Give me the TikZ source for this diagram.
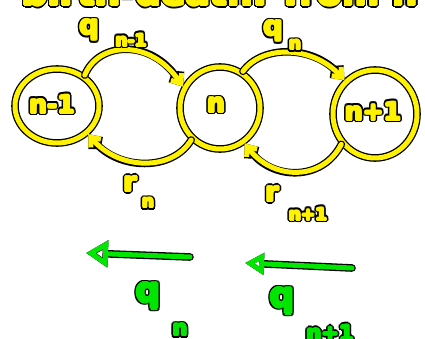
\documentclass[tikz,border=0pt]{standalone}
\usepackage{fontspec}
\setmainfont{DejaVu Sans}
\usetikzlibrary{arrows.meta,shapes.geometric,calc}
\definecolor{hy}{RGB}{255,242,0}
\definecolor{hg}{RGB}{0,230,0}
% outlined marker-style text: name, position, colour, font size, text
\newcommand{\otext}[5]{%
  \foreach \ang in {0,30,...,330} {\node[inner sep=0pt, text=black, font=\bfseries\fontsize{#4}{#4}\selectfont] at ($(#2)+(\ang:2.7pt)$) {#5};}
  \foreach \ang in {0,60,...,300} {\node[inner sep=0pt, text=#3, font=\bfseries\fontsize{#4}{#4}\selectfont] at ($(#2)+(\ang:1.2pt)$) {#5};}
  \node[inner sep=0pt, text=#3, font=\bfseries\fontsize{#4}{#4}\selectfont] (#1) at (#2) {#5};}
\tikzset{
  yl/.style={draw=hy, line width=5pt, line cap=round, line join=round,
     preaction={draw=black, line width=7.6pt, line cap=round, line join=round}},
  gl/.style={draw=hg, line width=5pt, line cap=round, line join=round,
     preaction={draw=black, line width=7.6pt, line cap=round, line join=round}},
  st/.style={ellipse, yl, inner sep=0pt},
  ytip/.style={-{Straight Barb[length=8pt,width=13pt]}},
}
\begin{document}
\begin{tikzpicture}[x=1pt,y=-1pt]
\useasboundingbox (0,0) rectangle (425,339);
% states
\node[st, minimum width=84pt, minimum height=74pt] (a) at (57,106) {};
\node[st, minimum width=80pt, minimum height=82pt] (b) at (220,108) {};
\node[st, minimum width=84pt, minimum height=88pt] (c) at (375,114) {};
% top arcs
\draw[yl, ytip] (a.48) .. controls (98,42) and (150,38) .. (b.150);
\draw[yl, ytip] (b.58) .. controls (262,45) and (312,45) .. (c.132);
% bottom arcs
\draw[yl, ytip] (b.228) .. controls (172,172) and (118,170) .. (a.318);
\draw[yl, ytip] (c.222) .. controls (322,182) and (272,180) .. (b.305);
% title (cut off at the top edge)
\begin{scope}
\clip (0,0) rectangle (425,339);
\otext{title}{220,-8}{hy}{36}{birth-death: from n}
\end{scope}
% state texts
\otext{ta}{52,104}{hy}{25}{n-1}
\otext{tb}{216,105}{hy}{25}{n}
\otext{tc}{373,111}{hy}{25}{n+1}
% labels
\otext{q1}{89,30}{hy}{27}{q}
\otext{q1s}{131,40}{hy}{17}{n-1}
\otext{q2}{273,31}{hy}{27}{q}
\otext{q2s}{295,45}{hy}{17}{n}
\otext{r1}{130,184}{hy}{27}{r}
\otext{r1s}{148,203}{hy}{17}{n}
\otext{r2}{272,194}{hy}{27}{r}
\otext{r2s}{308,214}{hy}{17}{n+1}
% green arrows
\coordinate (g1s) at (190,257);
\coordinate (g1e) at (86,253);
\coordinate (g2s) at (352,268);
\coordinate (g2e) at (245,263);
\draw[gl, -{Triangle[open,length=22pt,width=26pt]}] (g1s) -- (g1e);
\draw[gl, -{Triangle[open,length=19pt,width=21pt]}] (g2s) -- (g2e);
\otext{gq1}{148,296}{hg}{34}{q}
\otext{gq1s}{180,330}{hg}{21}{n}
\otext{gq2}{282,301}{hg}{34}{q}
\otext{gq2s}{330,333}{hg}{21}{n+1}
\end{tikzpicture}
\end{document}
